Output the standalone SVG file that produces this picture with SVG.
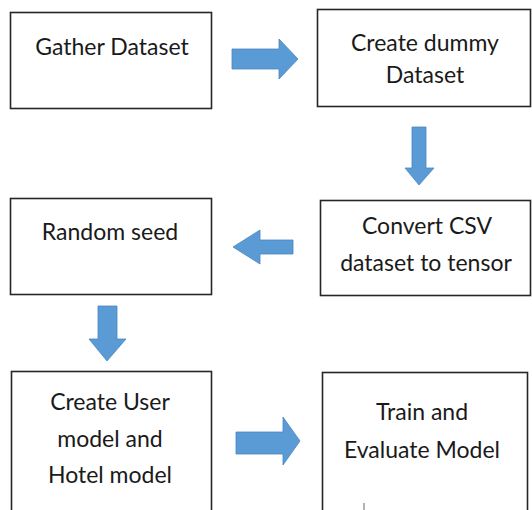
<svg xmlns="http://www.w3.org/2000/svg" width="532" height="510" viewBox="0 0 532 510">
<style>
.box{fill:#fff;stroke:#262626;stroke-width:1.6}
.t{font-family:Lato,"Liberation Sans",sans-serif;font-size:23px;fill:#1a1a1a;text-anchor:middle}
.arr{fill:#5b9bd5;stroke:#4a86bf;stroke-width:0.8}
</style>
<rect width="532" height="510" fill="#fff"/>
<g id="n1"><rect class="box" x="10.5" y="12.5" width="201" height="96"/><text class="t" x="112" y="55">Gather Dataset</text></g>
<g id="n2"><rect class="box" x="317.5" y="9.5" width="213" height="97"/><text class="t" x="425" y="51">Create dummy</text><text class="t" x="425" y="83">Dataset</text></g>
<g id="n3"><rect class="box" x="10.5" y="198.5" width="201" height="96"/><text class="t" x="110" y="240">Random seed</text></g>
<g id="n4"><rect class="box" x="320.5" y="200.5" width="210" height="95"/><text class="t" x="427" y="234">Convert CSV</text><text class="t" x="426" y="271">dataset to tensor</text></g>
<g id="n5"><rect class="box" x="11.5" y="371.5" width="200" height="145"/><text class="t" x="110" y="410">Create User</text><text class="t" x="110" y="447">model and</text><text class="t" x="110" y="483">Hotel model</text></g>
<g id="n6"><rect class="box" x="322.5" y="372.5" width="205" height="145"/><text class="t" x="422" y="420">Train and</text><text class="t" x="422" y="458">Evaluate Model</text><line x1="364" y1="503" x2="364" y2="510" stroke="#666" stroke-width="1"/></g>
<g id="connectors">
<polygon class="arr" points="232,49 279,49 279,39 298,59 279,79 279,69 232,69"/>
<polygon class="arr" points="412,127 426,127 426,168 434,168 419,185 405,168 412,168"/>
<polygon class="arr" points="293,240 260,240 260,230 233,247 260,264 260,254 293,254"/>
<polygon class="arr" points="98,306 117,306 117,339 126,339 107,361 89,339 98,339"/>
<polygon class="arr" points="236,432 283,432 283,417 300,441 283,465 283,454 236,454"/>
</g>
</svg>
